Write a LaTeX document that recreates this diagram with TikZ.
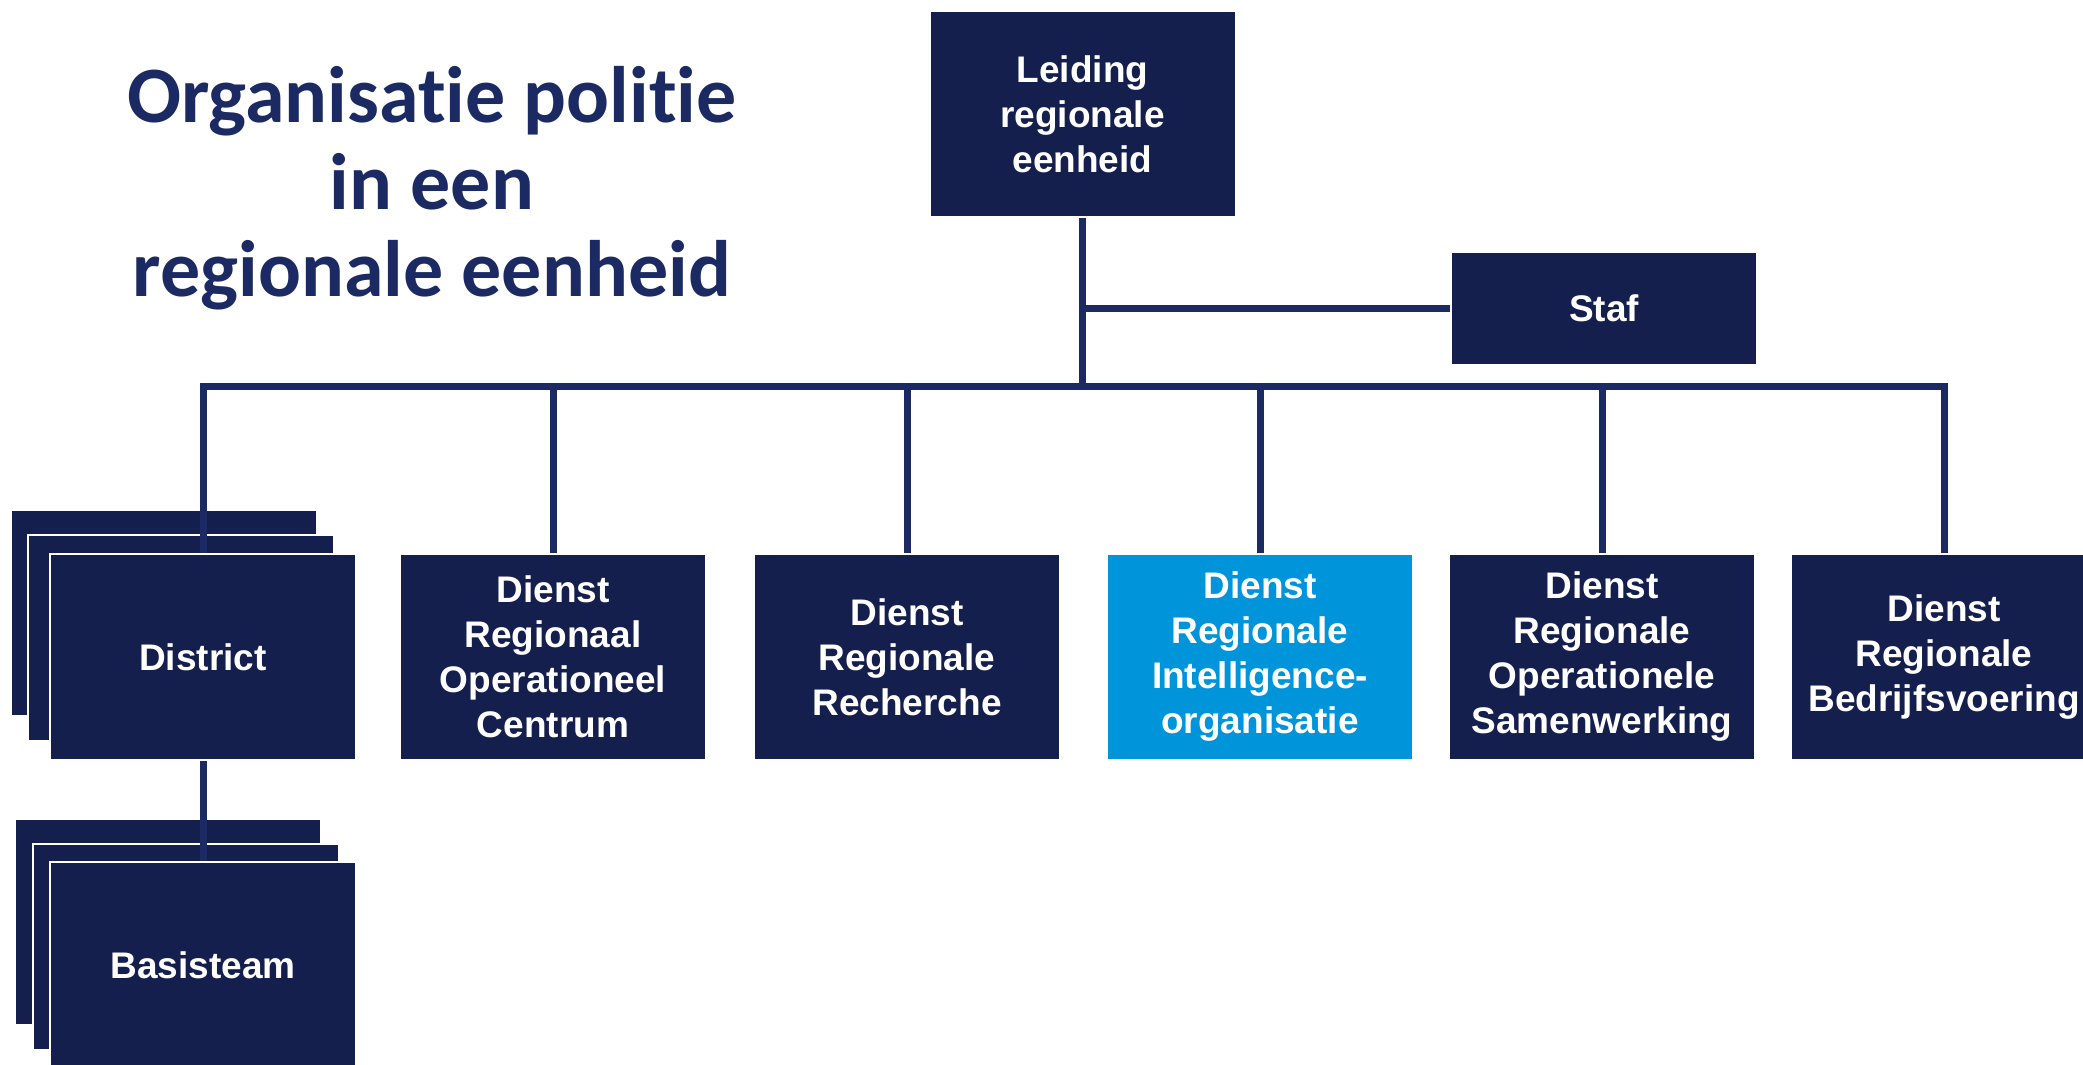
\documentclass[tikz,border=0pt]{standalone}
\usepackage{fontspec}
\setmainfont{Liberation Sans}
\newfontfamily\titlefont[Ligatures=NoCommon]{Carlito}
\usetikzlibrary{positioning}
\definecolor{navy}{RGB}{21,31,77}
\definecolor{linenavy}{RGB}{28,42,100}
\definecolor{skyblue}{RGB}{0,149,218}

\begin{document}
\begin{tikzpicture}[x=0.5pt,y=-0.5pt,node distance=154pt,
  every node/.style={fill=navy,draw=white,line width=1pt,text=white,inner sep=0pt,align=center,font=\fontsize{18.5}{22.5}\selectfont\bfseries},
  unit/.style={minimum width=153pt,minimum height=103pt},
  conn/.style={draw=linenavy,line width=3.5pt}]
  \useasboundingbox (0,0) rectangle (2083,1065);

  \node (title) at (432,188)[fill=none,draw=none,text=linenavy,font=\titlefont\fontsize{40}{43.5}\selectfont\bfseries]{Organisatie politie\\in een\\regionale eenheid};

  \node (lead) at (1082.5,114)[unit]{Leiding\\regionale\\eenheid};
  \node (staf) at (1604,308.5)[unit,minimum height=56.5pt]{Staf};
  \coordinate (bus) at (1082.5,386);

  % stapel district
  \node (district1) at (164,613)[unit]{};
  \node (district2) at (181,638)[unit]{};
  \node (district) at (203,657)[unit]{District};

  \node (roc) at (553,657)[unit]{Dienst\\Regionaal\\Operationeel\\Centrum};
  \node (drr) at (907,657)[unit]{Dienst\\Regionale\\Recherche};
  \node (dri) at (1260,657)[unit,fill=skyblue]{Dienst\\Regionale\\Intelligence-\\organisatie};
  \node (dros) at (1602,657)[unit]{Dienst\\Regionale\\Operationele\\Samenwerking};
  \node (drb) at (1944,657)[unit]{Dienst\\Regionale\\Bedrijfsvoering};

  % stapel basisteam
  \node (basis1) at (168,922)[unit]{};
  \node (basis2) at (186,947)[unit]{};
  \node[below of=district,unit](basis){Basisteam};

  \draw[conn](lead.south)--(lead.south|-bus);
  \draw[conn](lead.south|-staf.west)--(staf.west);
  \draw[conn](district.north)--(district.north|-bus)--(drb.north|-bus)--(drb.north);
  \draw[conn](roc.north|-bus)--(roc.north);
  \draw[conn](drr.north|-bus)--(drr.north);
  \draw[conn](dri.north|-bus)--(dri.north);
  \draw[conn](dros.north|-bus)--(dros.north);
  \draw[conn](district.south)--(basis.north);
\end{tikzpicture}
\end{document}
